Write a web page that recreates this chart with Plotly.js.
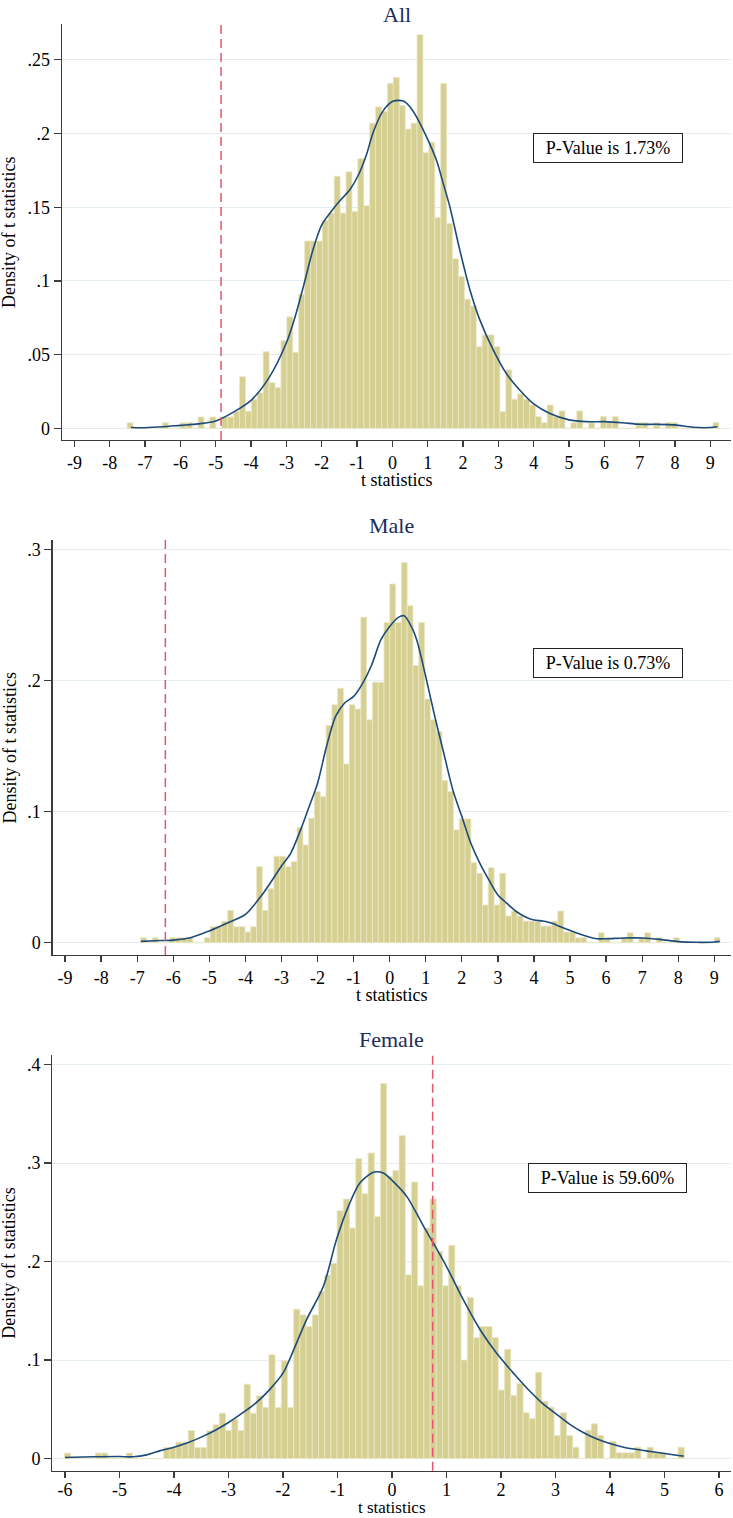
<!DOCTYPE html>
<html>
<head>
<meta charset="utf-8">
<script src="https://cdn.plot.ly/plotly-3.0.1.min.js"></script>
<style>
  body { margin: 0; background: #fff; }
  #chart { width: 733px; height: 1518px; }
</style>
</head>
<body>
<div id="chart"></div>
<script>
// panel texts
var panelTitles = ['All', 'Male', 'Female'];
var pValueText = ['P-Value is 1.73%', 'P-Value is 0.73%', 'P-Value is 59.60%'];
var cutoffs = [-4.85, -6.22, 0.746];

// histogram bins (100 bins each), density per bin
var allBinStart = -7.51, allBinWidth = 0.1675;
var allDensity = [
  0.0037, 0, 0, 0, 0, 0, 0.0037, 0, 0, 0.0037,
  0.0037, 0, 0.0077, 0, 0.0077, 0, 0.0077, 0.0077, 0.0115, 0.035,
  0.0115, 0.0195, 0.024, 0.052, 0.031, 0.0276, 0.0595, 0.0756, 0.0516, 0.091,
  0.127, 0.127, 0.127, 0.141, 0.146, 0.171, 0.146, 0.174, 0.147, 0.183,
  0.151, 0.207, 0.218, 0.215, 0.234, 0.238, 0.219, 0.203, 0.207, 0.267,
  0.187, 0.194, 0.143, 0.234, 0.139, 0.115, 0.103, 0.0876, 0.083, 0.0554,
  0.0633, 0.0633, 0.0554, 0.0113, 0.0396, 0.0197, 0.0233, 0.0197, 0.0158, 0.0079,
  0.0038, 0.0158, 0.0079, 0.0118, 0, 0.0038, 0.0118, 0, 0.0038, 0,
  0.0079, 0.0038, 0.0079, 0, 0, 0, 0.0038, 0.0038, 0, 0.0038,
  0, 0.0038, 0.0038, 0, 0, 0, 0, 0, 0, 0.0038
];

var maleBinStart = -6.903, maleBinWidth = 0.1606;
var maleDensity = [
  0.0038, 0, 0.0038, 0, 0, 0.0038, 0.0038, 0.0038, 0.0038, 0,
  0, 0.0038, 0.0122, 0.0122, 0.0163, 0.0247, 0.0122, 0.0122, 0.0081, 0.0122,
  0.058, 0.0247, 0.0412, 0.066, 0.066, 0.058, 0.0618, 0.088, 0.0746, 0.095,
  0.1154, 0.1115, 0.1658, 0.1816, 0.1943, 0.1365, 0.1816, 0.1783, 0.2485, 0.1701,
  0.1989, 0.1989, 0.2445, 0.2738, 0.2445, 0.2903, 0.2572, 0.2116, 0.2445, 0.1861,
  0.1701, 0.1612, 0.1238, 0.1154, 0.0861, 0.0945, 0.0945, 0.0611, 0.053, 0.0288,
  0.0573, 0.0288, 0.053, 0.0204, 0.0242, 0.0204, 0.0165, 0.0165, 0.0165, 0.0127,
  0.0127, 0.0165, 0.0242, 0.0081, 0.0081, 0.0038, 0.0038, 0, 0, 0.0076,
  0.0038, 0, 0, 0.0038, 0.0076, 0, 0.0038, 0.0076, 0, 0.0038,
  0, 0, 0.0038, 0, 0, 0, 0, 0, 0, 0.0038
];

var femaleBinStart = -6.013, femaleBinWidth = 0.11376;
var femaleDensity = [
  0.0055, 0, 0, 0, 0, 0.0055, 0.0055, 0, 0, 0,
  0.0055, 0, 0, 0, 0, 0, 0.0112, 0.0112, 0.0166, 0.0166,
  0.0284, 0.0112, 0.0112, 0.0284, 0.0342, 0.046, 0.0284, 0.0399, 0.0284, 0.0755,
  0.046, 0.0636, 0.0518, 0.1052, 0.0518, 0.0992, 0.0518, 0.1516, 0.1458, 0.1339,
  0.1458, 0.1695, 0.1864, 0.1983, 0.2515, 0.2634, 0.2339, 0.3044, 0.2688, 0.3102,
  0.2458, 0.3807, 0.2864, 0.2925, 0.3278, 0.1864, 0.2807, 0.1753, 0.2339, 0.2634,
  0.2102, 0.1753, 0.2163, 0.1753, 0.1, 0.1634, 0.1227, 0.1339, 0.1339, 0.1227,
  0.0695, 0.1108, 0.064, 0.0761, 0.0464, 0.0406, 0.0876, 0.0582, 0.0521, 0.0234,
  0.0464, 0.0234, 0.0115, 0, 0.0288, 0.0352, 0.0234, 0, 0.0176, 0.0058,
  0.0058, 0.0058, 0.0115, 0, 0.0115, 0.0058, 0.0058, 0, 0, 0.0115
];

// kernel density curves
var allKdeT = [-7.4, -7, -6.5, -6, -5.5, -5, -4.5, -4, -3.5, -3, -2.75, -2.5, -2.25, -2, -1.67, -1.48, -1.2, -0.96, -0.73, -0.54, -0.26, 0.03, 0.31, 0.5, 0.69, 0.97, 1.25, 1.44, 1.63, 1.91, 2.2, 2.48, 2.86, 3.23, 3.61, 3.99, 4.46, 5, 5.5, 6, 6.5, 7, 7.5, 8, 8.5, 9, 9.2];
var allKdeD = [0.0005, 0.0004, 0.001, 0.002, 0.003, 0.005, 0.011, 0.019, 0.034, 0.058, 0.076, 0.098, 0.121, 0.138, 0.149, 0.1545, 0.162, 0.172, 0.186, 0.201, 0.2155, 0.222, 0.222, 0.218, 0.211, 0.1975, 0.1817, 0.166, 0.15, 0.1207, 0.0935, 0.0732, 0.0529, 0.037, 0.0258, 0.0167, 0.01, 0.0057, 0.0045, 0.0045, 0.0038, 0.0027, 0.0027, 0.0023, 0.0007, 0.0005, 0.001];

var maleKdeT = [-6.9, -6.5, -6, -5.5, -5, -4.5, -4, -3.5, -3, -2.75, -2.5, -2.25, -2, -1.75, -1.5, -1.25, -1, -0.75, -0.5, -0.25, 0, 0.25, 0.4, 0.6, 0.75, 1, 1.25, 1.5, 1.75, 2, 2.25, 2.5, 2.75, 3, 3.25, 3.5, 3.75, 4, 4.25, 4.5, 4.75, 5, 5.25, 5.5, 5.75, 6, 6.5, 7, 7.5, 8, 8.5, 9, 9.15];
var maleKdeD = [0.001, 0.0015, 0.002, 0.004, 0.009, 0.015, 0.0216, 0.038, 0.0585, 0.068, 0.084, 0.1026, 0.1217, 0.15, 0.1727, 0.183, 0.188, 0.198, 0.212, 0.231, 0.2414, 0.2485, 0.2495, 0.2414, 0.231, 0.203, 0.1727, 0.1446, 0.1166, 0.0963, 0.0759, 0.0606, 0.0479, 0.0364, 0.03, 0.024, 0.0198, 0.0173, 0.0165, 0.0148, 0.012, 0.0094, 0.0069, 0.0046, 0.003, 0.003, 0.0036, 0.0036, 0.0025, 0.0008, 0.0003, 0.0005, 0.001];

var femaleKdeT = [-6, -5.5, -5, -4.75, -4.5, -4.25, -4, -3.75, -3.5, -3.25, -3, -2.75, -2.5, -2.25, -2, -1.87, -1.57, -1.26, -1.02, -0.8, -0.59, -0.34, -0.16, 0.02, 0.27, 0.58, 0.76, 1.0, 1.31, 1.62, 1.92, 2.25, 2.5, 2.75, 3, 3.25, 3.5, 3.75, 4, 4.25, 4.5, 4.75, 5, 5.25, 5.35];
var femaleKdeD = [0.001, 0.0017, 0.002, 0.0017, 0.0037, 0.008, 0.0115, 0.016, 0.0217, 0.0284, 0.0365, 0.046, 0.0562, 0.0697, 0.0866, 0.1017, 0.1407, 0.1746, 0.222, 0.256, 0.2797, 0.2905, 0.2898, 0.2814, 0.2661, 0.2356, 0.2186, 0.1949, 0.161, 0.1305, 0.1068, 0.0853, 0.07, 0.0565, 0.0457, 0.0352, 0.0267, 0.02, 0.0152, 0.0115, 0.0091, 0.0071, 0.0051, 0.003, 0.0024];

// tick labels
var wideTickVals = [-9, -8, -7, -6, -5, -4, -3, -2, -1, 0, 1, 2, 3, 4, 5, 6, 7, 8, 9];
var wideTickText = ['-9', '-8', '-7', '-6', '-5', '-4', '-3', '-2', '-1', '0', '1', '2', '3', '4', '5', '6', '7', '8', '9'];
var femaleTickVals = [-6, -5, -4, -3, -2, -1, 0, 1, 2, 3, 4, 5, 6];
var femaleTickText = ['-6', '-5', '-4', '-3', '-2', '-1', '0', '1', '2', '3', '4', '5', '6'];
var allYVals = [0, 0.05, 0.1, 0.15, 0.2, 0.25];
var allYText = ['0', '.05', '.1', '.15', '.2', '.25'];
var maleYVals = [0, 0.1, 0.2, 0.3];
var maleYText = ['0', '.1', '.2', '.3'];
var femaleYVals = [0, 0.1, 0.2, 0.3, 0.4];
var femaleYText = ['0', '.1', '.2', '.3', '.4'];

var W = 733, H = 1518;
var serif = 'Liberation Serif, Times New Roman, serif';
var barColor = '#d6cf92';
var barEdge = '#ebe7c6';
var kdeColor = '#1d4b7a';
var cutColor = '#e5556a';
var axisColor = '#3c3c3c';
var gridColor = '#e4eef2';
var titleColor = '#1e2b5a';

function px(x) { return x / W; }
function py(y) { return 1 - y / H; }

function barTrace(start, width, dens, n) {
    return {
        type: 'bar',
        x0: start + width / 2,
        dx: width,
        y: dens,
        xaxis: 'x' + n, yaxis: 'y' + n,
        marker: {color: barColor, line: {color: barEdge, width: 0.8}},
        hoverinfo: 'skip'
    };
}
function kdeTrace(t, d, n) {
    return {
        type: 'scatter', mode: 'lines',
        x: t, y: d,
        xaxis: 'x' + n, yaxis: 'y' + n,
        line: {color: kdeColor, width: 1.6, shape: 'spline', smoothing: 0.8},
        hoverinfo: 'skip'
    };
}

var data = [
    barTrace(allBinStart, allBinWidth, allDensity, ''),
    kdeTrace(allKdeT, allKdeD, ''),
    barTrace(maleBinStart, maleBinWidth, maleDensity, '2'),
    kdeTrace(maleKdeT, maleKdeD, '2'),
    barTrace(femaleBinStart, femaleBinWidth, femaleDensity, '3'),
    kdeTrace(femaleKdeT, femaleKdeD, '3')
];

function xAxis(dom, rng, vals, text, anchor, standoff) {
    return {
        domain: dom, range: rng, anchor: anchor,
        tickmode: 'array', tickvals: vals, ticktext: text,
        showgrid: false, zeroline: false,
        showline: true, linecolor: axisColor, linewidth: 1.3,
        ticks: 'outside', ticklen: 6, tickwidth: 1.3, tickcolor: axisColor,
        ticklabelstandoff: standoff,
        tickfont: {family: serif, size: 18, color: '#000'}
    };
}
function yAxis(dom, rng, vals, text, anchor) {
    return {
        domain: dom, range: rng, anchor: anchor,
        tickmode: 'array', tickvals: vals, ticktext: text,
        showgrid: true, gridcolor: gridColor, gridwidth: 1, zeroline: false,
        showline: true, linecolor: axisColor, linewidth: 1.3,
        ticks: 'outside', ticklen: 7, tickwidth: 1.3, tickcolor: axisColor,
        tickfont: {family: serif, size: 18, color: '#000'}
    };
}

// plot boxes in pixels: [left, right, top, bottom]
var boxes = [[62, 731, 24, 440], [52.7, 731, 540, 955], [52.3, 731, 1055, 1470.7]];

var layout = {
    width: W, height: H,
    margin: {l: 0, r: 0, t: 0, b: 0},
    paper_bgcolor: '#fff', plot_bgcolor: '#fff',
    showlegend: false, bargap: 0,
    xaxis: xAxis([px(62), px(731)], [-9.352, 9.584], wideTickVals, wideTickText, 'y', 0),
    yaxis: yAxis([py(440), py(24)], [-0.00794, 0.27429], allYVals, allYText, 'x'),
    xaxis2: xAxis([px(52.7), px(731)], [-9.343, 9.462], wideTickVals, wideTickText, 'y2', 0),
    yaxis2: yAxis([py(955), py(540)], [-0.00939, 0.3074], maleYVals, maleYText, 'x2'),
    xaxis3: xAxis([px(52.3), px(731)], [-6.233, 6.220], femaleTickVals, femaleTickText, 'y3', -4),
    yaxis3: yAxis([py(1470.7), py(1055)], [-0.01239, 0.40964], femaleYVals, femaleYText, 'x3'),
    shapes: [],
    annotations: []
};

var refs = ['', '2', '3'];
// title / x-title anchors in pixels: [y, yanchor, font size]
var titlePos = [[0, 'top'], [525, 'middle'], [1039, 'middle']];
var xTitlePos = [[480, 'middle', 18], [995, 'middle', 18], [1518, 'bottom', 17]];
var pBoxPos = [[6.09, 0.1905, 146], [6.05, 0.2135, 146], [3.95, 0.2843, 155]];

for (var i = 0; i < 3; i++) {
    var b = boxes[i];
    var cx = (b[0] + b[1]) / 2;
    layout.shapes.push({
        type: 'line', xref: 'x' + refs[i], yref: 'y' + refs[i] + ' domain',
        x0: cutoffs[i], x1: cutoffs[i], y0: 0, y1: 1,
        line: {color: cutColor, width: 1.5, dash: '9px,5px'}
    });
    layout.annotations.push({
        text: panelTitles[i], xref: 'paper', yref: 'paper',
        x: px(cx), y: py(titlePos[i][0]), xanchor: 'center', yanchor: titlePos[i][1],
        showarrow: false, font: {family: serif, size: 22, color: titleColor}
    });
    layout.annotations.push({
        text: 'Density of t statistics', xref: 'paper', yref: 'paper',
        x: px(9), y: py((b[2] + b[3]) / 2), xanchor: 'center', yanchor: 'middle',
        textangle: -90, showarrow: false, font: {family: serif, size: 18, color: '#000'}
    });
    layout.annotations.push({
        text: 't statistics', xref: 'paper', yref: 'paper',
        x: px(cx), y: py(xTitlePos[i][0]), xanchor: 'center', yanchor: xTitlePos[i][1],
        borderpad: 0, showarrow: false,
        font: {family: serif, size: xTitlePos[i][2], color: '#000'}
    });
    layout.annotations.push({
        text: pValueText[i], xref: 'x' + refs[i], yref: 'y' + refs[i],
        x: pBoxPos[i][0], y: pBoxPos[i][1], xanchor: 'center', yanchor: 'middle',
        width: pBoxPos[i][2], height: 26, align: 'center', valign: 'middle',
        showarrow: false, bgcolor: '#fff', bordercolor: '#222', borderwidth: 1, borderpad: 1,
        font: {family: serif, size: 18, color: '#000'}
    });
}

Plotly.newPlot('chart', data, layout, {displayModeBar: false, staticPlot: true});
</script>
</body>
</html>
